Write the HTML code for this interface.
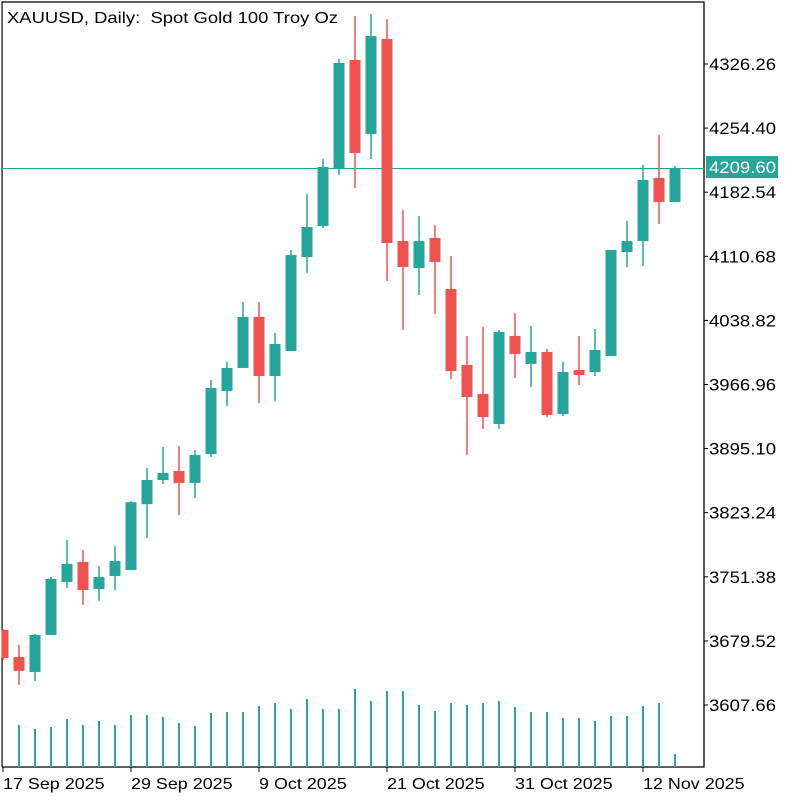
<!DOCTYPE html>
<html><head><meta charset="utf-8"><style>
html,body{margin:0;padding:0;background:#fff;}
svg{display:block;font-family:"Liberation Sans",sans-serif;}
text{white-space:pre;}
</style></head><body>
<svg id="chart" width="800" height="800" viewBox="0 0 800 800">
<rect x="0" y="0" width="800" height="800" fill="#fff"/>
</svg>
<script>
const dates = ["17 Sep 2025","29 Sep 2025","9 Oct 2025","21 Oct 2025","31 Oct 2025","12 Nov 2025"];
const dateIdx = [0,8,16,24,32,40];
const opens  = [3691.8,3661.5,3644.7,3686.2,3745.6,3768.0,3737.7,3752.3,3759.0,3832.8,3859.9,3870.0,3856.6,3889.0,3959.7,3985.5,4042.7,3976.5,4004.5,4109.9,4144.7,4208.5,4330.7,4247.8,4354.3,4127.8,4097.6,4131.2,4074.0,3988.8,3956.3,3922.7,4021.4,3990.0,4003.4,3933.9,3983.2,3981.0,3998.9,4115.5,4127.8,4198.5,4171.6];
const highs  = [3693.0,3675.0,3687.3,3751.2,3792.6,3781.4,3763.5,3786.0,3836.1,3873.4,3896.9,3898.0,3893.5,3972.0,3992.2,4059.5,4059.5,4024.7,4117.8,4180.5,4219.8,4331.9,4380.1,4382.3,4376.7,4162.6,4155.9,4145.8,4111.0,4021.4,4031.4,4028.1,4047.1,4032.6,4006.8,3992.2,4021.4,4029.2,4117.8,4150.3,4213.0,4246.7,4211.9];
const lows   = [3658.0,3630.1,3634.6,3686.2,3738.9,3719.8,3724.3,3736.6,3759.0,3794.9,3855.4,3820.6,3839.7,3885.7,3942.9,3985.5,3946.2,3948.5,4004.5,4092.0,4142.4,4201.8,4187.3,4219.8,4083.0,4028.1,4067.3,4046.0,3973.1,3887.9,3917.1,3917.1,3974.2,3964.2,3930.5,3931.7,3966.4,3976.5,3998.9,4098.7,4099.8,4146.9,4171.6];
const closes = [3660.4,3645.9,3686.2,3748.9,3765.8,3736.6,3751.2,3769.1,3835.0,3859.9,3867.8,3856.6,3887.9,3963.0,3985.5,4042.7,3976.5,4012.4,4112.1,4143.5,4210.8,4327.4,4226.5,4357.6,4125.6,4098.7,4127.8,4104.3,3982.1,3952.9,3930.5,4025.8,4001.2,4003.4,3932.8,3981.0,3977.6,4005.7,4117.8,4127.8,4196.2,4171.6,4209.6];
const volumes = [0,42,38,40,48,42,46,42,52,52,50,44,41,54,55,55,61,64,58,68,58,58,78,66,76,76,62,56,64,62,64,66,60,55,55,49,49,46,51,51,61,64,13];
const yTicks = [4326.26,4254.40,4182.54,4110.68,4038.82,3966.96,3895.10,3823.24,3751.38,3679.52,3607.66];
const lastPrice = 4209.60;

const NS="http://www.w3.org/2000/svg";
const svg=document.getElementById('chart');
const G="#26a69a", R="#ef5350";
const plotL=2, plotT=2, plotR=704, plotB=767;
const WIDEN=1.12;
function xOf(i){return 3+16*i;}
function yOf(p){return 64+(4326.26-p)*(641/718.6);}
function vOf(v){return 767-v;}
function mk(tag,attrs){const e=document.createElementNS(NS,tag);for(const k in attrs)e.setAttribute(k,attrs[k]);svg.appendChild(e);return e;}
function widen(e){const L=e.getComputedTextLength();if(L>0){e.setAttribute('textLength',(L*WIDEN).toFixed(1));e.setAttribute('lengthAdjust','spacingAndGlyphs');}}

let fr=mk('path',{d:`M${plotL} ${plotB}V${plotT}H${plotR}V${plotB}H${plotL}`,fill:'none',stroke:'#000','stroke-width':1.3});



let t=mk('text',{x:7,y:23,'font-size':16,fill:'#000'});
t.textContent='XAUUSD, Daily:  Spot Gold 100 Troy Oz';


t.setAttribute('textLength','331');
t.setAttribute('lengthAdjust','spacingAndGlyphs');

volumes.forEach((v,i)=>{
  if(v<=0)return;
  const b=mk('line',{x1:xOf(i),x2:xOf(i),y1:plotB,y2:vOf(v),stroke:G,'stroke-width':2});
  
  
});

const lyR=Math.round(yOf(lastPrice))+0.5;
let lp=mk('line',{x1:plotL,x2:plotR,y1:lyR,y2:lyR,stroke:G,'stroke-width':1});



opens.forEach((o,i)=>{
  const c=closes[i],h=highs[i],l=lows[i];
  const col=c>=o?G:R;
  const x=xOf(i);
  const w=mk('line',{x1:x,x2:x,y1:yOf(h),y2:yOf(l),stroke:col,'stroke-width':1.5});
  
  
  const top=yOf(Math.max(o,c)),bot=yOf(Math.min(o,c));
  const b=mk('rect',{x:x-5.5,y:top,width:11,height:Math.max(1,bot-top),fill:col});
  
  
});

mk('rect',{x:0,y:0,width:plotL-0.6,height:800,fill:'#fff'});

yTicks.forEach(v=>{
  const y=yOf(v);
  const tk=mk('line',{x1:plotR,x2:plotR+4,y1:y,y2:y,stroke:'#000','stroke-width':1});
  
  
  const tx=mk('text',{x:709,y:y+6,'font-size':17,fill:'#000'});
  tx.textContent=v.toFixed(2);
  
  
  tx.setAttribute('textLength','67');
  tx.setAttribute('lengthAdjust','spacingAndGlyphs');
});

const ly=yOf(lastPrice);
let bx=mk('rect',{x:706,y:ly-12,width:72,height:22,fill:G});


let bt=mk('text',{x:709,y:ly+5,'font-size':17,fill:'#fff'});
bt.textContent=lastPrice.toFixed(2);


bt.setAttribute('textLength','67');
bt.setAttribute('lengthAdjust','spacingAndGlyphs');

dates.forEach((d,k)=>{
  const x=xOf(dateIdx[k]);
  const tk=mk('line',{x1:x,x2:x,y1:plotB,y2:plotB+5,stroke:'#000','stroke-width':1});
  
  
  const tx=mk('text',{x:x,y:789,'font-size':16,fill:'#000'});
  tx.textContent=d;
  
  
  widen(tx);
});
</script>
</body></html>
